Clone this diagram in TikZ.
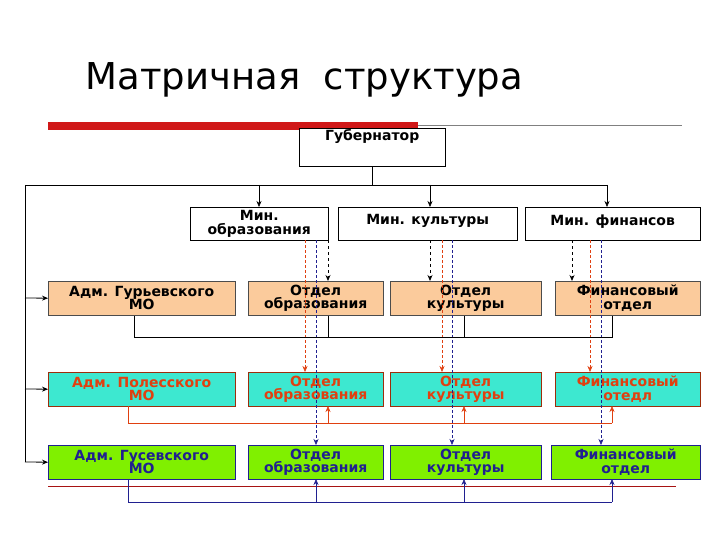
\documentclass[tikz,border=0pt]{standalone}
\usepackage{fontspec}
\setmainfont{DejaVu Sans}
\usetikzlibrary{arrows.meta}
\definecolor{orng}{HTML}{FBCB9C}
\definecolor{cyn}{HTML}{3DE8D0}
\definecolor{grn}{HTML}{80F000}
\definecolor{rtxt}{HTML}{E04010}
\definecolor{btxt}{HTML}{202090}
\definecolor{redbar}{HTML}{D01818}
\begin{document}
\begin{tikzpicture}[x=1pt,y=-1pt,
 bx/.style={draw,minimum width=#1,minimum height=34pt,inner sep=0pt,align=center,font=\bfseries\fontsize{14}{13.5}\selectfont,anchor=north west},
 r1/.style={fill=orng,draw=black!70},
 r2/.style={fill=cyn,draw=rtxt!70!black,text=rtxt},
 r3/.style={fill=grn,draw=btxt,text=btxt},
 ar/.style={-{Stealth[length=6pt,width=5pt]}},
 thd/.style={dashed,dash pattern=on 3pt off 2pt,thin}]
\useasboundingbox (0,0) rectangle (720,540);
\node[anchor=west,font=\fontsize{37}{37}\selectfont] (title) at (82,80) {Матричная\ \ структура};
\fill[redbar] (48,122) rectangle (418,130);
\draw[gray] (418,125) -- (682,125);
\node[bx=146pt,draw,minimum height=38pt,anchor=north west,fill=white,text height=10pt] (gub) at (299,128) {\raisebox{12pt}{Губернатор}};
% ministries
\node[bx=138pt,minimum height=33pt,fill=white] (m1) at (190,207) {Мин.\\образования};
\node[bx=179pt,minimum height=33pt,fill=white] (m2) at (338,207) {\raisebox{8pt}{Мин. культуры}};
\node[bx=175pt,minimum height=33pt,fill=white] (m3) at (525,207) {\raisebox{8pt}{Мин. финансов}};
% rows
\node[bx=187pt,r1] (a1) at (48,281) {Адм. Гурьевского\\МО};
\node[bx=135pt,r1] (o1) at (248,281) {Отдел\\образования};
\node[bx=151pt,r1] (k1) at (390,281) {Отдел\\культуры};
\node[bx=145pt,r1] (f1) at (555,281) {Финансовый\\отдел};
\node[bx=187pt,r2] (a2) at (48,372) {Адм. Полесского\\МО};
\node[bx=135pt,r2] (o2) at (248,372) {Отдел\\образования};
\node[bx=151pt,r2] (k2) at (390,372) {Отдел\\культуры};
\node[bx=145pt,r2] (f2) at (555,372) {Финансовый\\отедл};
\node[bx=187pt,r3] (a3) at (48,445) {Адм. Гусевского\\МО};
\node[bx=135pt,r3] (o3) at (248,445) {Отдел\\образования};
\node[bx=151pt,r3] (k3) at (390,445) {Отдел\\культуры};
\node[bx=149pt,r3] (f3) at (551,445) {Финансовый\\отдел};
% governor links
\coordinate (hl) at (25,185); \coordinate (hr) at (607,185);
\draw (gub.south) -- (gub.south |- hl);
\draw (hl) -- (hr);
\draw[ar,semithick] (259,185) -- (259,207);
\draw[ar,semithick] (430,185) -- (430,207);
\draw[ar,semithick] (607,185) -- (607,207);
\draw (hl) -- (25,462);
\draw[ar,thick] (25,298) -- (a1.west);
\draw[ar,thick] (25,389) -- (a2.west);
\draw[ar,thick] (25,462) -- (a3.west);
% black dashed
\draw[ar,dashed,thick] (328,240) -- (328,281);
\draw[ar,dashed,thick] (430,240) -- (430,281);
\draw[ar,dashed,thick] (572,240) -- (572,281);
% red thin dashed
\foreach \x in {305,442,590}{\draw[ar,thd,rtxt] (\x,240) -- (\x,372);}
% blue thin dashed
\foreach \x in {316,452,601}{\draw[ar,thd,btxt] (\x,240) -- (\x,445);}
% row1 feedback
\draw (134,316) -- (134,337) -- (612,337) -- (612,316);
\draw (328,337) -- (328,316);
\draw (464,337) -- (464,316);
% row2 feedback
\draw[rtxt] (128,406) -- (128,423) -- (612,423);
\foreach \x in {328,464,612}{\draw[ar,rtxt,semithick] (\x,423) -- (\x,406);}
% red line
\draw[redbar!80!black] (48,486) -- (676,486);
% row3 feedback
\draw[btxt] (128,479) -- (128,502) -- (612,502);
\foreach \x in {316,464,612}{\draw[ar,btxt,semithick] (\x,502) -- (\x,479);}
\end{tikzpicture}
\end{document}
